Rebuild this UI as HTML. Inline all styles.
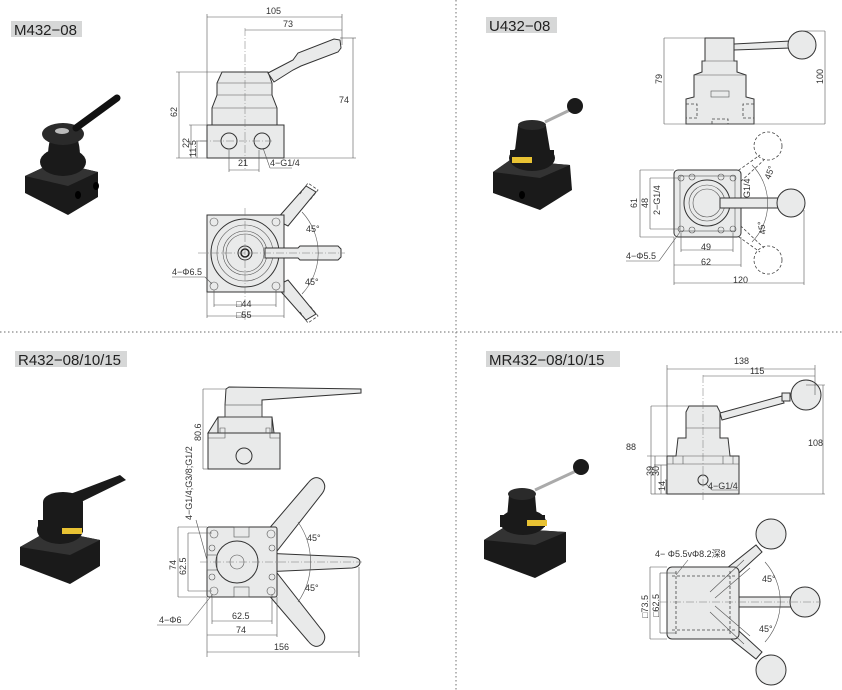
<!DOCTYPE html>
<html><head><meta charset="utf-8"><style>
html,body{margin:0;padding:0;background:#fff;}
svg{display:block;}
text{font-family:"Liberation Sans","Noto Sans CJK SC",sans-serif;fill:#333;}
.lb{font-size:15px;fill:#222;}
.d{font-size:9px;}
.f{fill:#e9eaea;stroke:#333;stroke-width:1;}
.l{stroke:#555;stroke-width:.6;fill:none;}
.c{stroke:#777;stroke-width:.5;stroke-dasharray:8 2 1 2;fill:none;}
.dash{fill:none;stroke:#444;stroke-width:.8;stroke-dasharray:3 2;}
.bk{fill:#1a1a1a;}
.bk2{fill:#333;}
</style></head><body>
<svg width="842" height="690" viewBox="0 0 842 690" xmlns="http://www.w3.org/2000/svg">
<!-- dividers -->
<line x1="456" y1="0" x2="456" y2="690" stroke="#888" stroke-width="1.2" stroke-dasharray="1.5 2.5"/>
<line x1="0" y1="332" x2="842" y2="332" stroke="#888" stroke-width="1.2" stroke-dasharray="1.5 2.5"/>

<!-- ===== Q1 M432-08 ===== -->
<rect x="11" y="21" width="71" height="16" fill="#d6d7d7"/>
<text class="lb" x="14" y="35">M432−08</text>
<!-- photo -->
<g>
<polygon class="bk" points="25,176 55,162 98,172 98,197 68,215 25,193"/>
<polygon class="bk2" points="25,176 55,162 98,172 68,186"/>
<ellipse class="bk" cx="63" cy="162" rx="23" ry="14"/>
<path class="bk" d="M52,132 Q45,155 50,170 L78,170 Q83,150 75,132 Z"/>
<ellipse cx="63" cy="134" rx="21" ry="11" fill="#2a2a2a"/>
<ellipse cx="62" cy="131" rx="7" ry="3" fill="#bbb"/>
<line x1="76" y1="128" x2="117" y2="98" stroke="#111" stroke-width="7" stroke-linecap="round"/>
<ellipse cx="78" cy="195" rx="3" ry="4" fill="#000"/>
<ellipse cx="96" cy="186" rx="3" ry="4" fill="#000"/>
</g>
<!-- front view -->
<path class="f" d="M222,72 L268,72 L272,83 L272,95 L277,108 L277,125 L212,125 L212,108 L217,95 L217,83 Z"/>
<line class="l" x1="217" y1="83" x2="272" y2="83"/><line class="l" x1="217" y1="95" x2="272" y2="95"/><line class="l" x1="212" y1="108" x2="277" y2="108"/>
<rect class="f" x="207" y="125" width="77" height="33"/>
<path class="f" d="M268,73 L293,60 L298,53 L334,39 L340,40 L341,48 L338,52 L301,66 L293,70 L274,82 Z"/>
<circle class="f" cx="229" cy="141" r="8"/><circle class="f" cx="262" cy="141" r="8"/>
<line class="c" x1="245" y1="28" x2="245" y2="170"/>
<line class="c" x1="200" y1="141" x2="272" y2="141"/>
<g class="l">
<line x1="207" y1="14" x2="207" y2="125"/><line x1="342" y1="14" x2="342" y2="45"/><line x1="207" y1="17" x2="342" y2="17"/>
<line x1="245" y1="30" x2="342" y2="30"/>
<line x1="340" y1="38" x2="356" y2="38"/><line x1="284" y1="158" x2="356" y2="158"/><line x1="353" y1="38" x2="353" y2="158"/>
<line x1="176" y1="72" x2="222" y2="72"/><line x1="176" y1="158" x2="207" y2="158"/><line x1="179" y1="72" x2="179" y2="158"/>
<line x1="189" y1="125" x2="207" y2="125"/><line x1="191" y1="125" x2="191" y2="158"/>
<line x1="196" y1="141" x2="207" y2="141"/><line x1="197" y1="141" x2="197" y2="158"/>
<line x1="229" y1="150" x2="229" y2="172"/><line x1="259" y1="150" x2="259" y2="172"/><line x1="229" y1="170" x2="259" y2="170"/>
<line x1="263" y1="148" x2="270" y2="168"/><line x1="270" y1="168" x2="292" y2="168"/>
</g>
<text class="d" x="266" y="14">105</text><text class="d" x="283" y="27">73</text>
<text class="d" x="339" y="103">74</text>
<text class="d" transform="translate(177,117) rotate(-90)">62</text>
<text class="d" transform="translate(189,148) rotate(-90)">22</text>
<text class="d" transform="translate(196,157) rotate(-90)">11.5</text>
<text class="d" x="238" y="166">21</text><text class="d" x="270" y="166">4−G1/4</text>
<!-- top view -->
<path class="f" d="M276,220 L306,186 L316,192 L288,226 Z"/>
<path class="dash" d="M300,194 L308,183 L318,190 L310,200"/>
<path class="f" d="M276,286 L306,320 L316,314 L288,280 Z"/>
<path class="dash" d="M300,312 L308,323 L318,316 L310,306"/>
<rect class="f" x="207" y="215" width="77" height="77"/>
<circle class="l" cx="214" cy="222" r="4"/><circle class="l" cx="276" cy="222" r="4"/><circle class="l" cx="214" cy="286" r="4"/><circle class="l" cx="276" cy="286" r="4"/>
<circle class="f" cx="245" cy="253" r="34"/><circle class="l" cx="245" cy="253" r="28"/>
<circle class="l" cx="245" cy="253" r="22"/><circle class="l" cx="245" cy="253" r="19"/>
<path class="f" d="M265,248 L298,248 L300,246 L338,246 L341,249 L341,257 L338,260 L300,260 L298,258 L265,258 Z"/>
<circle class="f" cx="245" cy="253" r="7"/><circle cx="245" cy="253" r="4" fill="none" stroke="#222" stroke-width="1.5"/>
<line class="c" x1="198" y1="253" x2="345" y2="253"/><line class="c" x1="245" y1="208" x2="245" y2="320"/>
<path class="l" d="M302,212 A60,60 0 0 1 302,294"/>
<g class="l">
<line x1="214" y1="290" x2="214" y2="307"/><line x1="276" y1="290" x2="276" y2="307"/><line x1="214" y1="305" x2="276" y2="305"/>
<line x1="207" y1="292" x2="207" y2="318"/><line x1="284" y1="292" x2="284" y2="318"/><line x1="207" y1="316" x2="284" y2="316"/>
<line x1="172" y1="277" x2="205" y2="277"/><line x1="205" y1="277" x2="212" y2="284"/>
</g>
<text class="d" x="306" y="232">45°</text><text class="d" x="305" y="285">45°</text>
<text class="d" x="236" y="307">□44</text><text class="d" x="236" y="318">□55</text>
<text class="d" x="172" y="275">4−Φ6.5</text>

<!-- ===== Q2 U432-08 ===== -->
<rect x="486" y="17" width="71" height="16" fill="#d6d7d7"/>
<text class="lb" x="489" y="31">U432−08</text>
<!-- photo -->
<g>
<polygon class="bk" points="493,172 510,160 570,165 572,190 540,210 493,193"/>
<polygon class="bk2" points="493,172 510,160 570,165 540,178"/>
<ellipse class="bk" cx="532" cy="158" rx="23" ry="13"/>
<rect x="510" y="150" width="44" height="12" class="bk"/>
<rect x="512" y="157" width="20" height="6" fill="#e8c233"/>
<path class="bk" d="M518,126 L515,150 L550,150 L546,126 Z"/>
<ellipse cx="532" cy="125" rx="14" ry="5" fill="#2a2a2a"/>
<line x1="545" y1="122" x2="570" y2="110" stroke="#aaa" stroke-width="3"/>
<circle cx="575" cy="106" r="8" class="bk"/>
<ellipse cx="522" cy="195" rx="3" ry="4" fill="#000"/>
</g>
<!-- side view -->
<path class="f" d="M734,44 L790,41 L790,48 L734,50 Z"/>
<circle class="f" cx="802" cy="45" r="14"/>
<path class="f" d="M705,38 L734,38 L734,61 L737,61 L737,72 L746,75 L746,97 L754,99 L754,124 L686,124 L686,99 L694,97 L694,75 L702,72 L702,61 L705,61 Z"/>
<line class="l" x1="702" y1="61" x2="737" y2="61"/><line class="l" x1="694" y1="75" x2="746" y2="75"/>
<rect class="l" x="711" y="91" width="18" height="6"/>
<path class="dash" d="M686,104 L697,104 L697,118 L686,118 M754,104 L743,104 L743,118 L754,118 M712,124 L712,119 L728,119 L728,124"/>
<g class="l">
<line x1="664" y1="38" x2="705" y2="38"/><line x1="664" y1="124" x2="825" y2="124"/><line x1="664" y1="38" x2="664" y2="124"/>
<line x1="802" y1="31" x2="825" y2="31"/><line x1="825" y1="31" x2="825" y2="124"/>
</g>
<text class="d" transform="translate(662,84) rotate(-90)">79</text>
<text class="d" transform="translate(823,84) rotate(-90)">100</text>
<!-- top view -->
<circle class="dash" cx="768" cy="146" r="14"/><circle class="dash" cx="768" cy="260" r="14"/>
<path class="dash" d="M718,185 L760,155 M726,195 L764,160 M718,222 L760,252 M726,212 L764,248"/>
<rect class="f" x="674" y="170" width="67" height="67" rx="4"/>
<rect class="l" x="680" y="176" width="55" height="55"/>
<circle class="l" cx="681" cy="178" r="3"/><circle class="l" cx="733" cy="178" r="3"/><circle class="l" cx="681" cy="229" r="3"/><circle class="l" cx="733" cy="229" r="3"/>
<circle class="l" cx="692" cy="177" r="3"/><circle class="l" cx="721" cy="177" r="3"/><circle class="l" cx="692" cy="230" r="3"/><circle class="l" cx="721" cy="230" r="3"/>
<circle class="f" cx="707" cy="203" r="23"/><circle class="l" cx="707" cy="203" r="18"/><circle class="l" cx="707" cy="203" r="14"/>
<path class="f" d="M720,198 L778,198 L778,208 L720,208 Z"/>
<circle class="f" cx="791" cy="203" r="14"/>
<path class="l" d="M752,165 A55,55 0 0 1 752,242"/>
<g class="l">
<line x1="640" y1="170" x2="674" y2="170"/><line x1="640" y1="237" x2="674" y2="237"/><line x1="640" y1="170" x2="640" y2="237"/>
<line x1="650" y1="178" x2="680" y2="178"/><line x1="650" y1="229" x2="680" y2="229"/><line x1="650" y1="178" x2="650" y2="229"/>
<line x1="681" y1="233" x2="681" y2="252"/><line x1="733" y1="233" x2="733" y2="252"/><line x1="681" y1="250" x2="733" y2="250"/>
<line x1="674" y1="237" x2="674" y2="285"/><line x1="741" y1="237" x2="741" y2="267"/><line x1="674" y1="265" x2="741" y2="265"/>
<line x1="804" y1="210" x2="804" y2="285"/><line x1="674" y1="283" x2="804" y2="283"/>
<line x1="626" y1="261" x2="659" y2="261"/><line x1="659" y1="261" x2="680" y2="232"/>
</g>
<text class="d" transform="translate(637,208) rotate(-90)">61</text>
<text class="d" transform="translate(648,208) rotate(-90)">48</text>
<text class="d" transform="translate(660,215) rotate(-90)">2−G1/4</text>
<text class="d" transform="translate(750,198) rotate(-90)">G1/4</text>
<text class="d" transform="translate(770,180) rotate(-70)">45°</text>
<text class="d" transform="translate(766,234) rotate(-100)">45°</text>
<text class="d" x="701" y="250">49</text><text class="d" x="701" y="265">62</text><text class="d" x="733" y="283">120</text>
<text class="d" x="626" y="259">4−Φ5.5</text>

<!-- ===== Q3 R432 ===== -->
<rect x="15" y="351" width="112" height="16" fill="#d6d7d7"/>
<text class="lb" x="18" y="365">R432−08/10/15</text>
<g>
<polygon class="bk" points="20,547 50,530 100,540 100,566 70,584 20,565"/>
<polygon class="bk2" points="20,547 50,530 100,540 70,555"/>
<ellipse class="bk" cx="60" cy="530" rx="23" ry="14"/>
<rect x="38" y="520" width="45" height="12" class="bk"/>
<rect x="62" y="528" width="20" height="6" fill="#e8c233"/>
<ellipse class="bk" cx="63" cy="502" rx="20" ry="10"/>
<rect x="43" y="502" width="40" height="20" class="bk"/>
<path class="bk" d="M65,496 L120,475 L126,480 L75,505 Z"/>
</g>
<!-- side view -->
<path class="f" d="M226,389 L229,387 L361,389 L361,393 L262,400 L262,417 L272,417 L274,433 L208,433 L218,417 L225,417 L225,405 Z" />
<rect class="f" x="218" y="417" width="54" height="16"/>
<rect class="l" x="225" y="405" width="37" height="12"/>
<rect class="f" x="208" y="433" width="72" height="36"/>
<path class="l" d="M220,433 L220,428 L225,428 L225,438 L208,438 M266,433 L266,428 L270,428 L270,438 L280,438"/>
<circle class="f" cx="244" cy="456" r="8"/>
<g class="l"><line x1="203" y1="389" x2="226" y2="389"/><line x1="203" y1="469" x2="208" y2="469"/><line x1="203" y1="389" x2="203" y2="469"/></g>
<text class="d" transform="translate(201,441) rotate(-90)">80.6</text>
<!-- top view -->
<path class="f" d="M255,545 L308,483 Q315,474 322,480 Q328,487 321,495 L270,560 Z"/>
<path class="f" d="M255,579 L308,641 Q315,650 322,644 Q328,637 321,629 L270,564 Z"/>
<path class="f" d="M262,553 L352,557 Q360,558 360,562 Q360,567 352,568 L262,572 Z"/>
<rect class="f" x="207" y="527" width="70" height="70" rx="2"/>
<circle class="l" cx="214" cy="534" r="4"/><circle class="l" cx="271" cy="534" r="4"/><circle class="l" cx="214" cy="591" r="4"/><circle class="l" cx="271" cy="591" r="4"/>
<circle class="l" cx="212" cy="548" r="3"/><circle class="l" cx="272" cy="548" r="3"/><circle class="l" cx="212" cy="577" r="3"/><circle class="l" cx="272" cy="577" r="3"/>
<circle class="f" cx="237" cy="562" r="21"/><circle class="l" cx="237" cy="562" r="7"/>
<rect class="l" x="234" y="527" width="15" height="10"/><rect class="l" x="234" y="587" width="15" height="10"/>
<rect class="l" x="207" y="555" width="10" height="15"/>
<line class="c" x1="200" y1="562" x2="362" y2="562"/>
<path class="l" d="M298,522 A70,70 0 0 1 298,602"/>
<g class="l">
<line x1="178" y1="527" x2="207" y2="527"/><line x1="178" y1="597" x2="207" y2="597"/><line x1="178" y1="527" x2="178" y2="597"/>
<line x1="188" y1="533" x2="212" y2="533"/><line x1="188" y1="591" x2="212" y2="591"/><line x1="188" y1="533" x2="188" y2="591"/>
<line x1="212" y1="594" x2="212" y2="624"/><line x1="272" y1="594" x2="272" y2="624"/><line x1="212" y1="621" x2="272" y2="621"/>
<line x1="207" y1="597" x2="207" y2="657"/><line x1="277" y1="597" x2="277" y2="637"/><line x1="207" y1="635" x2="277" y2="635"/>
<line x1="359" y1="567" x2="359" y2="657"/><line x1="207" y1="652" x2="359" y2="652"/>
<line x1="157" y1="625" x2="188" y2="625"/><line x1="188" y1="625" x2="212" y2="595"/>
<line x1="196" y1="520" x2="207" y2="560"/>
</g>
<text class="d" transform="translate(176,570) rotate(-90)">74</text>
<text class="d" transform="translate(186,575) rotate(-90)">62.5</text>
<text class="d" transform="translate(192,520) rotate(-90)">4−G1/4;G3/8;G1/2</text>
<text class="d" x="307" y="541">45°</text><text class="d" x="305" y="591">45°</text>
<text class="d" x="232" y="619">62.5</text><text class="d" x="236" y="633">74</text><text class="d" x="274" y="650">156</text>
<text class="d" x="159" y="623">4−Φ6</text>

<!-- ===== Q4 MR432 ===== -->
<rect x="486" y="351" width="134" height="16" fill="#d6d7d7"/>
<text class="lb" x="489" y="365">MR432−08/10/15</text>
<g>
<polygon class="bk" points="484,540 503,528 566,532 566,562 535,578 484,559"/>
<polygon class="bk2" points="484,540 503,528 566,532 535,545"/>
<ellipse class="bk" cx="523" cy="522" rx="23" ry="13"/>
<rect x="500" y="515" width="45" height="12" class="bk"/>
<rect x="527" y="520" width="20" height="6" fill="#e8c233"/>
<path class="bk" d="M509,495 L507,518 L537,518 L535,495 Z"/>
<ellipse cx="522" cy="494" rx="14" ry="6" fill="#2a2a2a"/>
<line x1="535" y1="490" x2="576" y2="471" stroke="#aaa" stroke-width="3"/>
<circle cx="581" cy="467" r="8" class="bk"/>
</g>
<!-- side view -->
<path class="f" d="M720,413 L782,396 L784,403 L722,420 Z"/>
<circle class="f" cx="806" cy="395" r="15"/>
<rect class="f" x="782" y="393" width="8" height="8"/>
<path class="f" d="M689,406 L717,406 L720,412 L720,438 L728,438 L730,456 L739,456 L739,494 L667,494 L667,456 L676,456 L678,438 L686,438 L686,412 Z"/>
<line class="l" x1="686" y1="428" x2="720" y2="428"/><line class="l" x1="676" y1="456" x2="730" y2="456"/>
<path class="l" d="M667,464 L739,464 M673,456 L673,464 M683,456 L683,464 M723,456 L723,464 M733,456 L733,464"/>
<circle class="f" cx="703" cy="480" r="5"/>
<line class="c" x1="703" y1="375" x2="703" y2="500"/>
<g class="l">
<line x1="667" y1="365" x2="667" y2="456"/><line x1="815" y1="365" x2="815" y2="395"/><line x1="667" y1="369" x2="815" y2="369"/>
<line x1="703" y1="376" x2="815" y2="376"/>
<line x1="806" y1="385" x2="825" y2="385"/><line x1="739" y1="494" x2="825" y2="494"/><line x1="823" y1="385" x2="823" y2="494"/>
<line x1="651" y1="406" x2="689" y2="406"/><line x1="651" y1="494" x2="667" y2="494"/><line x1="651" y1="406" x2="651" y2="494"/>
<line x1="647" y1="456" x2="667" y2="456"/><line x1="655" y1="456" x2="655" y2="494"/>
<line x1="654" y1="465" x2="667" y2="465"/><line x1="661" y1="465" x2="661" y2="494"/>
<line x1="665" y1="480" x2="667" y2="480"/><line x1="666" y1="480" x2="666" y2="494"/>
<line x1="706" y1="484" x2="712" y2="490"/><line x1="712" y1="490" x2="738" y2="490"/>
</g>
<text class="d" x="734" y="364">138</text><text class="d" x="750" y="374">115</text>
<text class="d" x="626" y="450">88</text><text class="d" x="808" y="446">108</text>
<text class="d" transform="translate(653,476) rotate(-90)">39</text>
<text class="d" transform="translate(659,476) rotate(-90)">30</text>
<text class="d" transform="translate(665,491) rotate(-90)">14</text>
<text class="d" x="708" y="489">4−G1/4</text>
<!-- top view -->
<path class="f" d="M717,576 L756,545 L762,552 L728,583 Z"/>
<circle class="f" cx="771" cy="534" r="15"/>
<path class="f" d="M717,628 L756,659 L762,652 L728,621 Z"/>
<circle class="f" cx="771" cy="670" r="15"/>
<path class="f" d="M739,597 L792,597 L792,607 L739,607 Z"/>
<circle class="f" cx="805" cy="602" r="15"/>
<rect class="f" x="667" y="567" width="72" height="72" rx="5"/>
<path class="l" d="M710,592 L744,560 M715,598 L750,568 M710,612 L744,644 M715,606 L750,636"/>
<path class="dash" d="M672,576 L735,576 M672,630 L735,630 M676,571 L676,635 M730,571 L730,635"/>
<line class="c" x1="660" y1="602" x2="820" y2="602"/>
<path class="l" d="M765,562 A60,60 0 0 1 765,642"/>
<g class="l">
<line x1="650" y1="567" x2="667" y2="567"/><line x1="650" y1="639" x2="667" y2="639"/><line x1="650" y1="567" x2="650" y2="639"/>
<line x1="660" y1="573" x2="676" y2="573"/><line x1="660" y1="633" x2="676" y2="633"/><line x1="660" y1="573" x2="660" y2="633"/>
<line x1="676" y1="575" x2="688" y2="560"/>
</g>
<text class="d" transform="translate(648,618) rotate(-90)">□73.5</text>
<text class="d" transform="translate(659,617) rotate(-90)">□62.5</text>
<text class="d" x="655" y="557">4− Φ5.5vΦ8.2深8</text>
<text class="d" x="762" y="582">45°</text><text class="d" x="759" y="632">45°</text>
</svg>
</body></html>
